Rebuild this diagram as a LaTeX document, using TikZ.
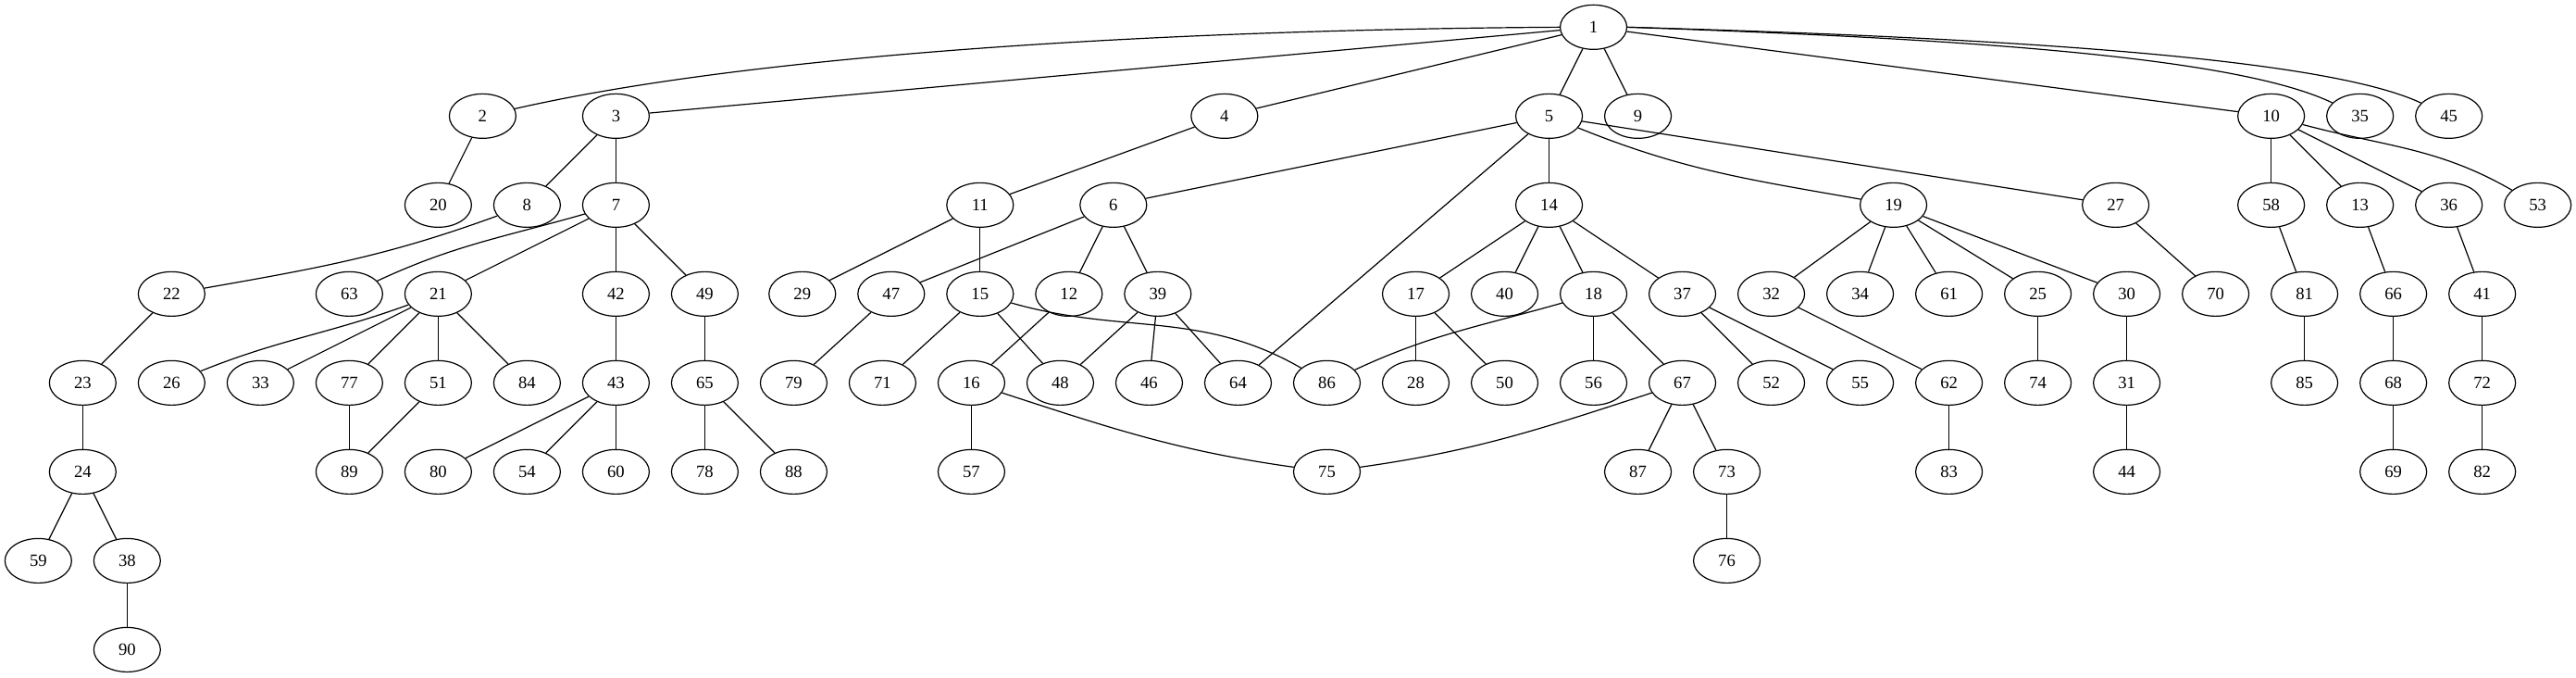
\documentclass[tikz,border=0pt]{standalone}
\usepackage{fontspec}
\setmainfont{Liberation Serif}
\usetikzlibrary{shapes.geometric}
\tikzset{vtx/.style={draw, ellipse, line width=0.9pt, minimum width=54pt, minimum height=36pt, inner sep=0pt, font=\fontsize{14}{16}\selectfont}}
\begin{document}
\begin{tikzpicture}[x=1pt, y=1pt, line width=0.9pt]
\useasboundingbox (0,0) rectangle (2087,-548.25);
% rank 0 and 1
\node[vtx] (n1) at (1291,-22) {1};
\node[vtx] (n2) at (391,-94) {2};
\node[vtx] (n3) at (499,-94) {3};
\node[vtx] (n4) at (992,-94) {4};
\node[vtx] (n5) at (1255,-94) {5};
\node[vtx] (n9) at (1327,-94) {9};
\node[vtx] (n10) at (1840,-94) {10};
\node[vtx] (n35) at (1912,-94) {35};
\node[vtx] (n45) at (1984,-94) {45};
% rank 2
\node[vtx] (n20) at (355,-166) {20};
\node[vtx] (n8) at (427,-166) {8};
\node[vtx] (n7) at (499,-166) {7};
\node[vtx] (n11) at (794,-166) {11};
\node[vtx] (n6) at (902,-166) {6};
\node[vtx] (n14) at (1255,-166) {14};
\node[vtx] (n19) at (1534,-166) {19};
\node[vtx] (n27) at (1714,-166) {27};
\node[vtx] (n58) at (1840,-166) {58};
\node[vtx] (n13) at (1912,-166) {13};
\node[vtx] (n36) at (1984,-166) {36};
\node[vtx] (n53) at (2056,-166) {53};
% rank 3
\node[vtx] (n22) at (139,-238) {22};
\node[vtx] (n63) at (283,-238) {63};
\node[vtx] (n21) at (355,-238) {21};
\node[vtx] (n42) at (499,-238) {42};
\node[vtx] (n49) at (571,-238) {49};
\node[vtx] (n29) at (650,-238) {29};
\node[vtx] (n47) at (722,-238) {47};
\node[vtx] (n15) at (794,-238) {15};
\node[vtx] (n12) at (866,-238) {12};
\node[vtx] (n39) at (938,-238) {39};
\node[vtx] (n17) at (1147,-238) {17};
\node[vtx] (n40) at (1219,-238) {40};
\node[vtx] (n18) at (1291,-238) {18};
\node[vtx] (n37) at (1363,-238) {37};
\node[vtx] (n32) at (1435,-238) {32};
\node[vtx] (n34) at (1507,-238) {34};
\node[vtx] (n61) at (1579,-238) {61};
\node[vtx] (n25) at (1651,-238) {25};
\node[vtx] (n30) at (1723,-238) {30};
\node[vtx] (n70) at (1795,-238) {70};
\node[vtx] (n81) at (1867,-238) {81};
\node[vtx] (n66) at (1939,-238) {66};
\node[vtx] (n41) at (2011,-238) {41};
% rank 4
\node[vtx] (n23) at (67,-310) {23};
\node[vtx] (n26) at (139,-310) {26};
\node[vtx] (n33) at (211,-310) {33};
\node[vtx] (n77) at (283,-310) {77};
\node[vtx] (n51) at (355,-310) {51};
\node[vtx] (n84) at (427,-310) {84};
\node[vtx] (n43) at (499,-310) {43};
\node[vtx] (n65) at (571,-310) {65};
\node[vtx] (n79) at (643,-310) {79};
\node[vtx] (n71) at (715,-310) {71};
\node[vtx] (n16) at (787,-310) {16};
\node[vtx] (n48) at (859,-310) {48};
\node[vtx] (n46) at (931,-310) {46};
\node[vtx] (n64) at (1003,-310) {64};
\node[vtx] (n86) at (1075,-310) {86};
\node[vtx] (n28) at (1147,-310) {28};
\node[vtx] (n50) at (1219,-310) {50};
\node[vtx] (n56) at (1291,-310) {56};
\node[vtx] (n67) at (1363,-310) {67};
\node[vtx] (n52) at (1435,-310) {52};
\node[vtx] (n55) at (1507,-310) {55};
\node[vtx] (n62) at (1579,-310) {62};
\node[vtx] (n74) at (1651,-310) {74};
\node[vtx] (n31) at (1723,-310) {31};
\node[vtx] (n85) at (1867,-310) {85};
\node[vtx] (n68) at (1939,-310) {68};
\node[vtx] (n72) at (2011,-310) {72};
% rank 5 to 7
\node[vtx] (n24) at (67,-382) {24};
\node[vtx] (n89) at (283,-382) {89};
\node[vtx] (n80) at (355,-382) {80};
\node[vtx] (n54) at (427,-382) {54};
\node[vtx] (n60) at (499,-382) {60};
\node[vtx] (n78) at (571,-382) {78};
\node[vtx] (n88) at (643,-382) {88};
\node[vtx] (n57) at (787,-382) {57};
\node[vtx] (n75) at (1075,-382) {75};
\node[vtx] (n87) at (1327,-382) {87};
\node[vtx] (n73) at (1399,-382) {73};
\node[vtx] (n83) at (1579,-382) {83};
\node[vtx] (n44) at (1723,-382) {44};
\node[vtx] (n69) at (1939,-382) {69};
\node[vtx] (n82) at (2011,-382) {82};
\node[vtx] (n59) at (31,-454) {59};
\node[vtx] (n38) at (103,-454) {38};
\node[vtx] (n76) at (1399,-454) {76};
\node[vtx] (n90) at (103,-526) {90};
% edges
\draw (n1.west) .. controls (950,-24) and (615,-43) .. (n2);
\draw (n1) -- (n3);
\draw (n1) -- (n4);
\draw (n1) -- (n5);
\draw (n1) -- (n9);
\draw (n1) -- (n10);
\draw (n1.east) .. controls (1580,-31) and (1810,-45) .. (n35);
\draw (n1.east) .. controls (1600,-30) and (1880,-45) .. (n45);
\draw (n2) -- (n20);
\draw (n3) -- (n8);
\draw (n3) -- (n7);
\draw (n4) -- (n11);
\draw (n5) -- (n6);
\draw (n5) -- (n14);
\draw (n5) to[out=-22,in=170] (n19);
\draw (n5) -- (n27);
\draw (n5) -- (n64);
\draw (n7) to[out=196,in=25] (n63);
\draw (n7) -- (n21);
\draw (n7) -- (n42);
\draw (n7) -- (n49);
\draw (n8) to[out=200,in=10] (n22);
\draw (n22) -- (n23);
\draw (n23) -- (n24);
\draw (n24) -- (n59);
\draw (n24) -- (n38);
\draw (n38) -- (n90);
\draw (n21) to[out=200,in=22] (n26);
\draw (n21) -- (n33);
\draw (n21) -- (n77);
\draw (n21) -- (n51);
\draw (n21) -- (n84);
\draw (n77) -- (n89);
\draw (n51) -- (n89);
\draw (n42) -- (n43);
\draw (n43) -- (n80);
\draw (n43) -- (n54);
\draw (n43) -- (n60);
\draw (n49) -- (n65);
\draw (n65) -- (n78);
\draw (n65) -- (n88);
\draw (n11) -- (n29);
\draw (n11) -- (n15);
\draw (n6) -- (n47);
\draw (n6) -- (n12);
\draw (n6) -- (n39);
\draw (n47) -- (n79);
\draw (n15) -- (n71);
\draw (n15) -- (n48);
\draw (n15) to[out=-16,in=150] (n86);
\draw (n12) -- (n16);
\draw (n16) -- (n57);
\draw (n16) to[out=-18,in=172] (n75);
\draw (n39) -- (n48);
\draw (n39) -- (n46);
\draw (n39) -- (n64);
\draw (n14) -- (n17);
\draw (n14) -- (n40);
\draw (n14) -- (n18);
\draw (n14) -- (n37);
\draw (n17) -- (n28);
\draw (n17) -- (n50);
\draw (n18) to[out=196,in=25] (n86);
\draw (n18) -- (n56);
\draw (n18) -- (n67);
\draw (n67) to[out=198,in=8] (n75);
\draw (n67) -- (n87);
\draw (n67) -- (n73);
\draw (n73) -- (n76);
\draw (n37) -- (n52);
\draw (n37) -- (n55);
\draw (n19) -- (n32);
\draw (n19) -- (n34);
\draw (n19) -- (n61);
\draw (n19) -- (n25);
\draw (n19) -- (n30);
\draw (n32) -- (n62);
\draw (n62) -- (n83);
\draw (n25) -- (n74);
\draw (n30) -- (n31);
\draw (n31) -- (n44);
\draw (n27) -- (n70);
\draw (n10) -- (n58);
\draw (n10) -- (n13);
\draw (n10) -- (n36);
\draw (n10) to[out=-15,in=150] (n53);
\draw (n58) -- (n81);
\draw (n81) -- (n85);
\draw (n13) -- (n66);
\draw (n66) -- (n68);
\draw (n68) -- (n69);
\draw (n36) -- (n41);
\draw (n41) -- (n72);
\draw (n72) -- (n82);
\end{tikzpicture}
\end{document}
